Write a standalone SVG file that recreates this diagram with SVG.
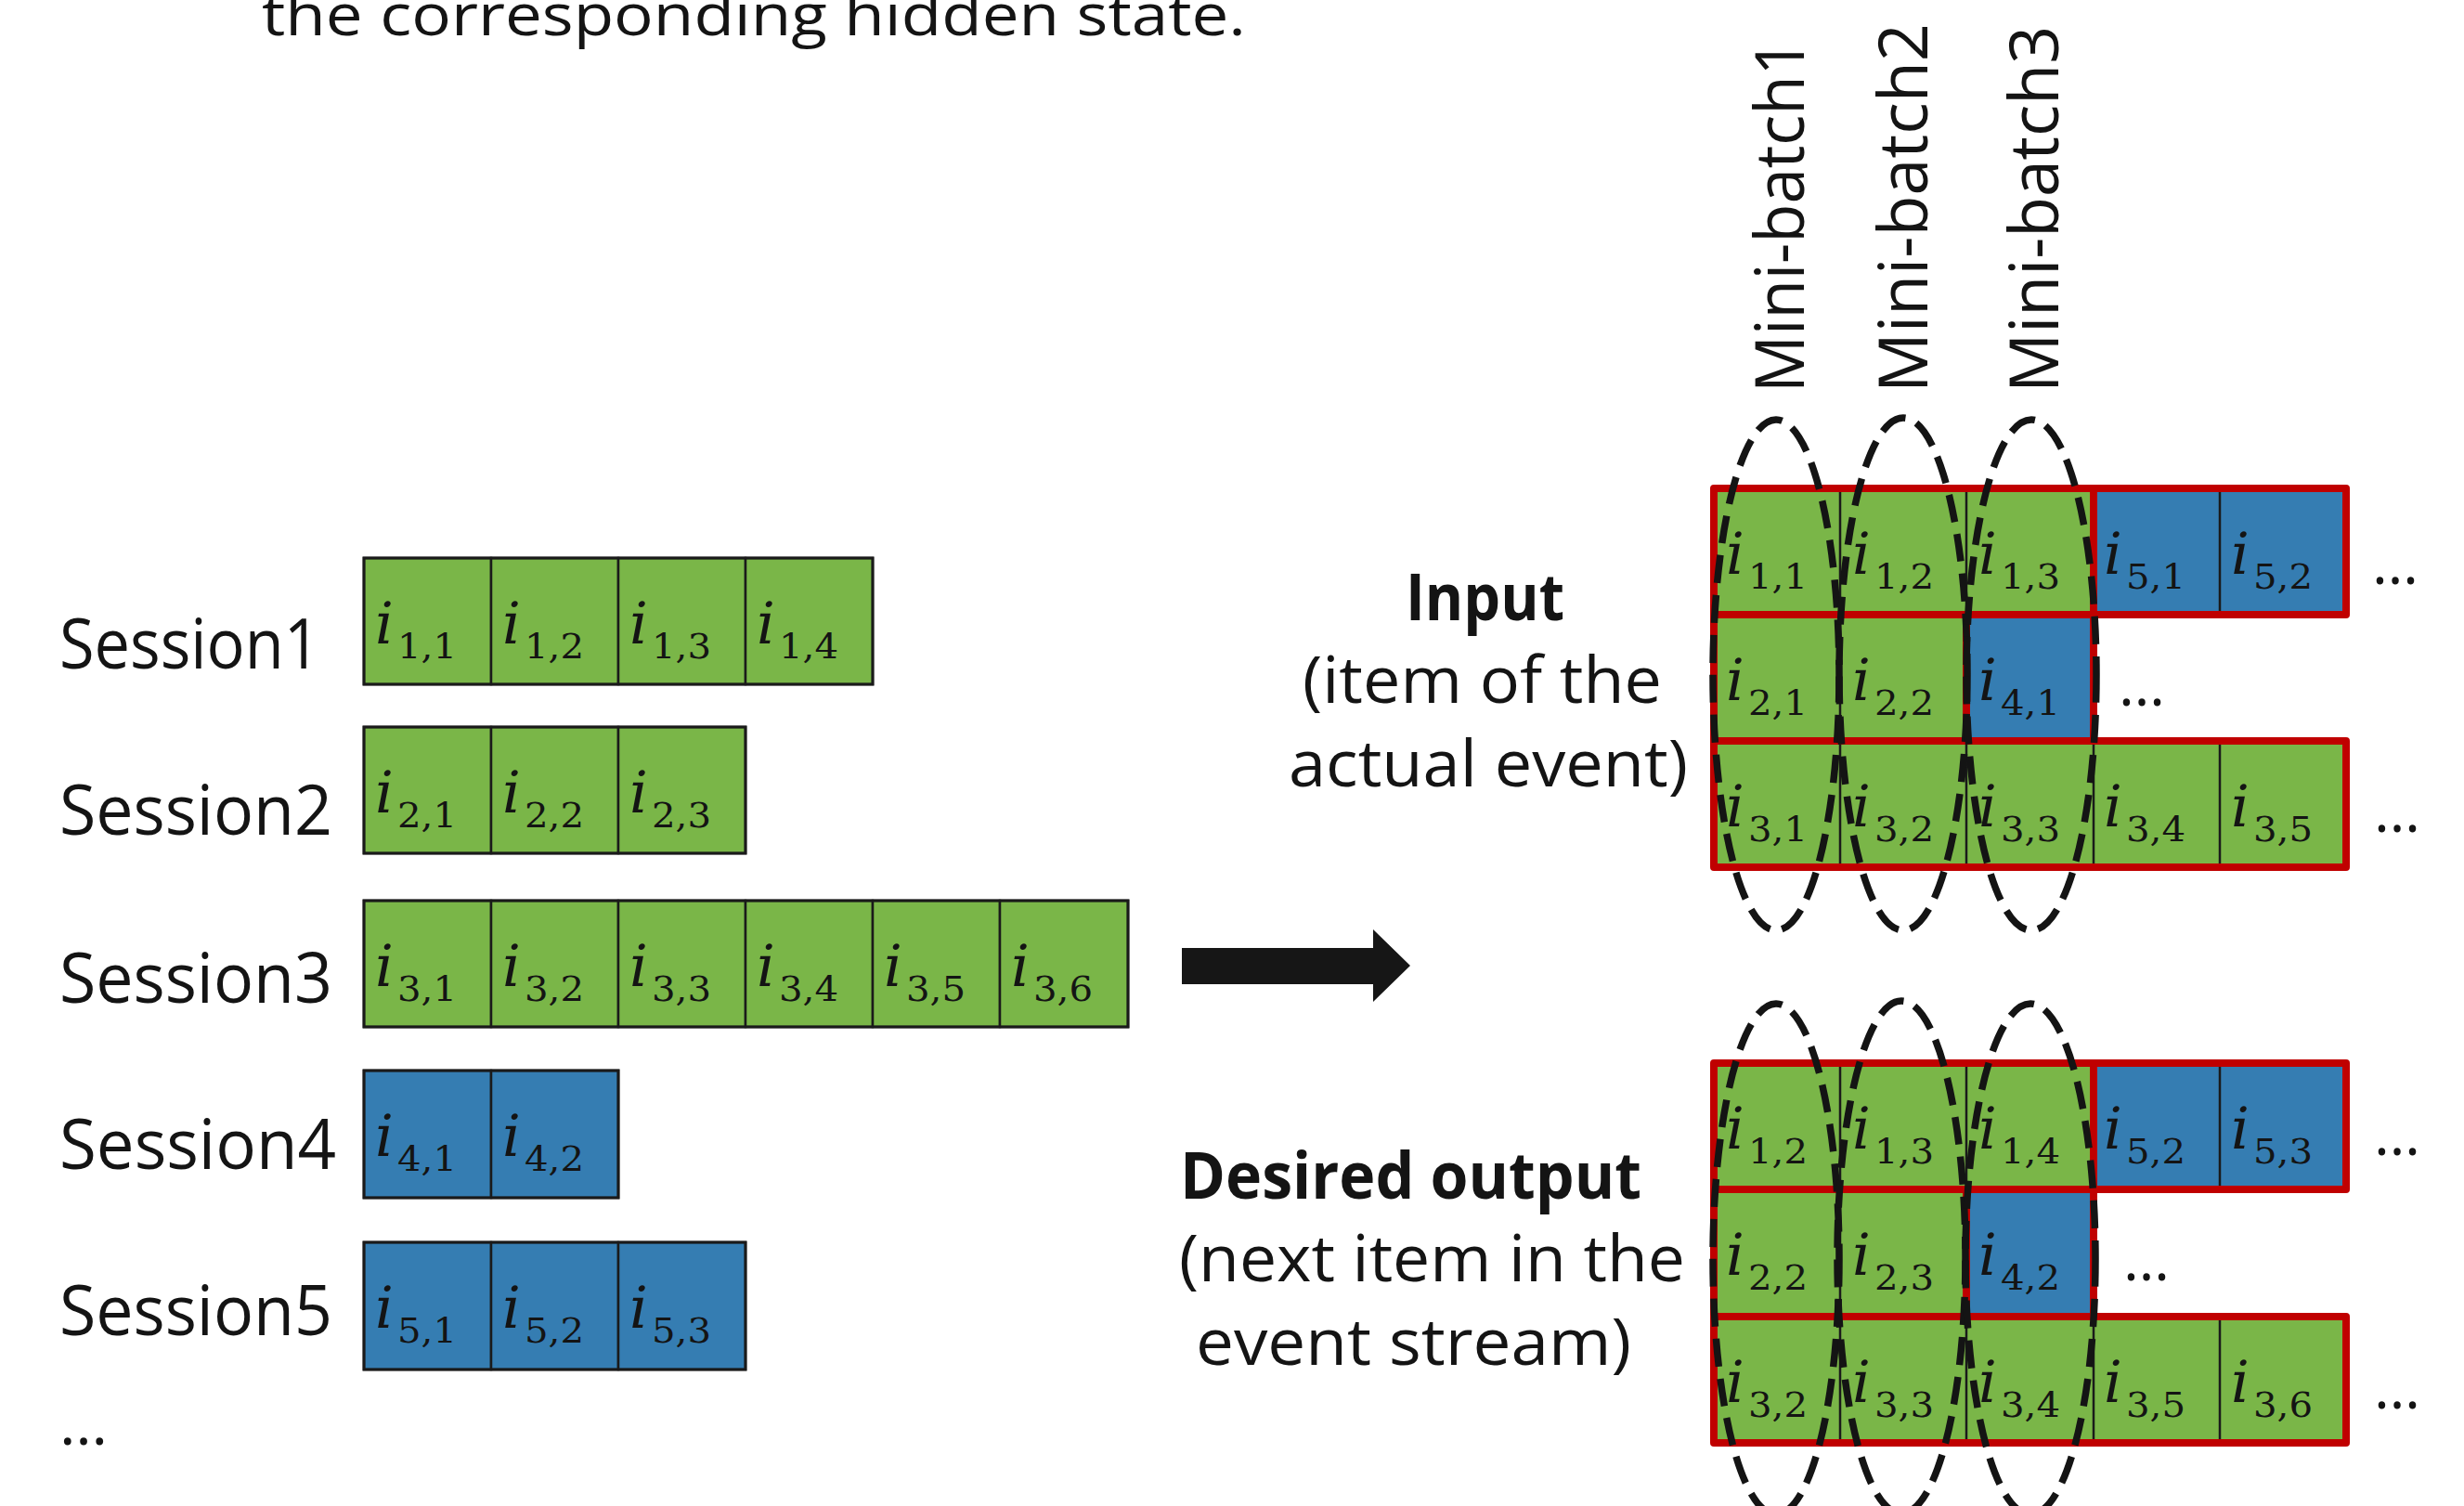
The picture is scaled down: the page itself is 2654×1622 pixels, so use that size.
<svg xmlns="http://www.w3.org/2000/svg" width="2654" height="1622" viewBox="0 0 2654 1622">
<style>
.txt{font-family:"Open Sans","Liberation Sans",sans-serif;fill:#141414}
.lbl{font-family:"Open Sans","Liberation Sans",sans-serif;font-size:75px;fill:#141414}
.bold{font-family:"Open Sans","Liberation Sans",sans-serif;font-size:70px;font-weight:bold;fill:#141414}
.mid{font-family:"Open Sans","Liberation Sans",sans-serif;font-size:70px;fill:#141414}
.mb{font-family:"Open Sans","Liberation Sans",sans-serif;font-size:74px;fill:#141414}
.dots{font-family:"Open Sans","Liberation Sans",sans-serif;font-size:64px;fill:#141414}
.g{fill:#7AB648}
.b{fill:#357DB2}
.lc{stroke:#1a1a1a;stroke-width:2.5}
.lo{fill:none;stroke:#1a1a1a;stroke-width:3}
.thin{stroke:#1a1a1a;stroke-width:2.5}
.red{fill:none;stroke:#C00000;stroke-width:8;stroke-linejoin:round}
.ii{font-family:"DejaVu Serif","Liberation Serif",serif;font-style:italic;font-size:62px;fill:#141414}
.sub{font-family:"DejaVu Serif","Liberation Serif",serif;font-size:37px;fill:#141414}
.ell{fill:none;stroke:#141414;stroke-width:7.5;stroke-dasharray:30 13}
</style>

<text class="txt" x="282" y="38" font-size="62" textLength="1060" lengthAdjust="spacingAndGlyphs">the corresponding hidden state.</text>

<!-- Left sessions -->
<g id="session1">
<text class="lbl" x="64" y="720" textLength="281" lengthAdjust="spacingAndGlyphs">Session1</text>
<rect class="g lc" x="392" y="601" width="137" height="136"/>
<rect class="g lc" x="529" y="601" width="137" height="136"/>
<rect class="g lc" x="666" y="601" width="137" height="136"/>
<rect class="g lc" x="803" y="601" width="137" height="136"/>
<rect class="lo" x="392" y="601" width="548" height="136"/>
<text class="ii" x="404" y="693">i</text><text class="sub" x="428" y="709" textLength="64" lengthAdjust="spacingAndGlyphs">1,1</text>
<text class="ii" x="541" y="693">i</text><text class="sub" x="565" y="709" textLength="64" lengthAdjust="spacingAndGlyphs">1,2</text>
<text class="ii" x="678" y="693">i</text><text class="sub" x="702" y="709" textLength="64" lengthAdjust="spacingAndGlyphs">1,3</text>
<text class="ii" x="815" y="693">i</text><text class="sub" x="839" y="709" textLength="64" lengthAdjust="spacingAndGlyphs">1,4</text>
</g>

<g id="session2">
<text class="lbl" x="64" y="899" textLength="294" lengthAdjust="spacingAndGlyphs">Session2</text>
<rect class="g lc" x="392" y="783" width="137" height="136"/>
<rect class="g lc" x="529" y="783" width="137" height="136"/>
<rect class="g lc" x="666" y="783" width="137" height="136"/>
<rect class="lo" x="392" y="783" width="411" height="136"/>
<text class="ii" x="404" y="875">i</text><text class="sub" x="428" y="891" textLength="64" lengthAdjust="spacingAndGlyphs">2,1</text>
<text class="ii" x="541" y="875">i</text><text class="sub" x="565" y="891" textLength="64" lengthAdjust="spacingAndGlyphs">2,2</text>
<text class="ii" x="678" y="875">i</text><text class="sub" x="702" y="891" textLength="64" lengthAdjust="spacingAndGlyphs">2,3</text>
</g>

<g id="session3">
<text class="lbl" x="64" y="1080" textLength="294" lengthAdjust="spacingAndGlyphs">Session3</text>
<rect class="g lc" x="392" y="970" width="137" height="136"/>
<rect class="g lc" x="529" y="970" width="137" height="136"/>
<rect class="g lc" x="666" y="970" width="137" height="136"/>
<rect class="g lc" x="803" y="970" width="137" height="136"/>
<rect class="g lc" x="940" y="970" width="137" height="136"/>
<rect class="g lc" x="1077" y="970" width="138" height="136"/>
<rect class="lo" x="392" y="970" width="823" height="136"/>
<text class="ii" x="404" y="1062">i</text><text class="sub" x="428" y="1078" textLength="64" lengthAdjust="spacingAndGlyphs">3,1</text>
<text class="ii" x="541" y="1062">i</text><text class="sub" x="565" y="1078" textLength="64" lengthAdjust="spacingAndGlyphs">3,2</text>
<text class="ii" x="678" y="1062">i</text><text class="sub" x="702" y="1078" textLength="64" lengthAdjust="spacingAndGlyphs">3,3</text>
<text class="ii" x="815" y="1062">i</text><text class="sub" x="839" y="1078" textLength="64" lengthAdjust="spacingAndGlyphs">3,4</text>
<text class="ii" x="952" y="1062">i</text><text class="sub" x="976" y="1078" textLength="64" lengthAdjust="spacingAndGlyphs">3,5</text>
<text class="ii" x="1089" y="1062">i</text><text class="sub" x="1113" y="1078" textLength="64" lengthAdjust="spacingAndGlyphs">3,6</text>
</g>

<g id="session4">
<text class="lbl" x="64" y="1259" textLength="298" lengthAdjust="spacingAndGlyphs">Session4</text>
<rect class="b lc" x="392" y="1153" width="137" height="137"/>
<rect class="b lc" x="529" y="1153" width="137" height="137"/>
<rect class="lo" x="392" y="1153" width="274" height="137"/>
<text class="ii" x="404" y="1245">i</text><text class="sub" x="428" y="1261" textLength="64" lengthAdjust="spacingAndGlyphs">4,1</text>
<text class="ii" x="541" y="1245">i</text><text class="sub" x="565" y="1261" textLength="64" lengthAdjust="spacingAndGlyphs">4,2</text>
</g>

<g id="session5">
<text class="lbl" x="64" y="1438" textLength="294" lengthAdjust="spacingAndGlyphs">Session5</text>
<rect class="b lc" x="392" y="1338" width="137" height="137"/>
<rect class="b lc" x="529" y="1338" width="137" height="137"/>
<rect class="b lc" x="666" y="1338" width="137" height="137"/>
<rect class="lo" x="392" y="1338" width="411" height="137"/>
<text class="ii" x="404" y="1430">i</text><text class="sub" x="428" y="1446" textLength="64" lengthAdjust="spacingAndGlyphs">5,1</text>
<text class="ii" x="541" y="1430">i</text><text class="sub" x="565" y="1446" textLength="64" lengthAdjust="spacingAndGlyphs">5,2</text>
<text class="ii" x="678" y="1430">i</text><text class="sub" x="702" y="1446" textLength="64" lengthAdjust="spacingAndGlyphs">5,3</text>
</g>

<text class="dots" x="64" y="1556" textLength="52" lengthAdjust="spacingAndGlyphs">…</text>

<!-- Connectors -->
<g id="connectors">
<polygon points="1273,1021 1479,1021 1479,1001 1519,1040 1479,1079 1479,1060 1273,1060" fill="#161616"/>
</g>

<!-- Input labels -->
<g id="input-label">
<text class="bold" x="1514" y="668" textLength="171" lengthAdjust="spacingAndGlyphs">Input</text>
<text class="mid" x="1403" y="757" textLength="387" lengthAdjust="spacingAndGlyphs">(item of the</text>
<text class="mid" x="1388" y="847" textLength="430" lengthAdjust="spacingAndGlyphs">actual event)</text>
</g>
<g id="output-label">
<text class="bold" x="1271" y="1291" textLength="497" lengthAdjust="spacingAndGlyphs">Desired output</text>
<text class="mid" x="1270" y="1380" textLength="545" lengthAdjust="spacingAndGlyphs">(next item in the</text>
<text class="mid" x="1288" y="1470" textLength="469" lengthAdjust="spacingAndGlyphs">event stream)</text>
</g>

<!-- Mini-batch labels -->
<g id="minibatch-labels">
<text class="mb" transform="translate(1943,423) rotate(-90)" textLength="381" lengthAdjust="spacingAndGlyphs">Mini-batch1</text>
<text class="mb" transform="translate(2076,423) rotate(-90)" textLength="398" lengthAdjust="spacingAndGlyphs">Mini-batch2</text>
<text class="mb" transform="translate(2217,423) rotate(-90)" textLength="395" lengthAdjust="spacingAndGlyphs">Mini-batch3</text>
</g>

<!-- Input grid -->
<g id="input-grid">
<rect class="g" x="1846" y="526" width="409" height="136"/>
<rect class="b" x="2255" y="526" width="272" height="136"/>
<rect class="g" x="1846" y="662" width="272" height="136"/>
<rect class="b" x="2118" y="662" width="137" height="136"/>
<rect class="g" x="1846" y="798" width="681" height="136"/>
<line class="thin" x1="1982" y1="526" x2="1982" y2="934"/>
<line class="thin" x1="2118" y1="526" x2="2118" y2="662"/>
<line class="thin" x1="2391" y1="526" x2="2391" y2="662"/>
<line class="thin" x1="2118" y1="798" x2="2118" y2="934"/>
<line class="thin" x1="2255" y1="798" x2="2255" y2="934"/>
<line class="thin" x1="2391" y1="798" x2="2391" y2="934"/>
<rect class="red" x="1846" y="526" width="409" height="136"/>
<rect class="red" x="2255" y="526" width="272" height="136"/>
<rect class="red" x="1846" y="662" width="272" height="136"/>
<rect class="red" x="2118" y="662" width="137" height="136"/>
<rect class="red" x="1846" y="798" width="681" height="136"/>
<text class="ii" x="1859" y="618">i</text><text class="sub" x="1883" y="634" textLength="64" lengthAdjust="spacingAndGlyphs">1,1</text>
<text class="ii" x="1995" y="618">i</text><text class="sub" x="2019" y="634" textLength="64" lengthAdjust="spacingAndGlyphs">1,2</text>
<text class="ii" x="2131" y="618">i</text><text class="sub" x="2155" y="634" textLength="64" lengthAdjust="spacingAndGlyphs">1,3</text>
<text class="ii" x="2266" y="618">i</text><text class="sub" x="2290" y="634" textLength="64" lengthAdjust="spacingAndGlyphs">5,1</text>
<text class="ii" x="2403" y="618">i</text><text class="sub" x="2427" y="634" textLength="64" lengthAdjust="spacingAndGlyphs">5,2</text>
<text class="ii" x="1859" y="754">i</text><text class="sub" x="1883" y="770" textLength="64" lengthAdjust="spacingAndGlyphs">2,1</text>
<text class="ii" x="1995" y="754">i</text><text class="sub" x="2019" y="770" textLength="64" lengthAdjust="spacingAndGlyphs">2,2</text>
<text class="ii" x="2131" y="754">i</text><text class="sub" x="2155" y="770" textLength="64" lengthAdjust="spacingAndGlyphs">4,1</text>
<text class="ii" x="1859" y="890">i</text><text class="sub" x="1883" y="906" textLength="64" lengthAdjust="spacingAndGlyphs">3,1</text>
<text class="ii" x="1995" y="890">i</text><text class="sub" x="2019" y="906" textLength="64" lengthAdjust="spacingAndGlyphs">3,2</text>
<text class="ii" x="2131" y="890">i</text><text class="sub" x="2155" y="906" textLength="64" lengthAdjust="spacingAndGlyphs">3,3</text>
<text class="ii" x="2266" y="890">i</text><text class="sub" x="2290" y="906" textLength="64" lengthAdjust="spacingAndGlyphs">3,4</text>
<text class="ii" x="2403" y="890">i</text><text class="sub" x="2427" y="906" textLength="64" lengthAdjust="spacingAndGlyphs">3,5</text>
<text class="dots" x="2555" y="629" textLength="50" lengthAdjust="spacingAndGlyphs">…</text>
<text class="dots" x="2282" y="760" textLength="50" lengthAdjust="spacingAndGlyphs">…</text>
<text class="dots" x="2557" y="896" textLength="50" lengthAdjust="spacingAndGlyphs">…</text>
</g>

<!-- Output grid -->
<g id="output-grid">
<rect class="g" x="1846" y="1145" width="409" height="136"/>
<rect class="b" x="2255" y="1145" width="272" height="136"/>
<rect class="g" x="1846" y="1281" width="272" height="137"/>
<rect class="b" x="2118" y="1281" width="137" height="137"/>
<rect class="g" x="1846" y="1418" width="681" height="136"/>
<line class="thin" x1="1982" y1="1145" x2="1982" y2="1554"/>
<line class="thin" x1="2118" y1="1145" x2="2118" y2="1281"/>
<line class="thin" x1="2391" y1="1145" x2="2391" y2="1281"/>
<line class="thin" x1="2118" y1="1418" x2="2118" y2="1554"/>
<line class="thin" x1="2255" y1="1418" x2="2255" y2="1554"/>
<line class="thin" x1="2391" y1="1418" x2="2391" y2="1554"/>
<rect class="red" x="1846" y="1145" width="409" height="136"/>
<rect class="red" x="2255" y="1145" width="272" height="136"/>
<rect class="red" x="1846" y="1281" width="272" height="137"/>
<rect class="red" x="2118" y="1281" width="137" height="137"/>
<rect class="red" x="1846" y="1418" width="681" height="136"/>
<text class="ii" x="1859" y="1237">i</text><text class="sub" x="1883" y="1253" textLength="64" lengthAdjust="spacingAndGlyphs">1,2</text>
<text class="ii" x="1995" y="1237">i</text><text class="sub" x="2019" y="1253" textLength="64" lengthAdjust="spacingAndGlyphs">1,3</text>
<text class="ii" x="2131" y="1237">i</text><text class="sub" x="2155" y="1253" textLength="64" lengthAdjust="spacingAndGlyphs">1,4</text>
<text class="ii" x="2266" y="1237">i</text><text class="sub" x="2290" y="1253" textLength="64" lengthAdjust="spacingAndGlyphs">5,2</text>
<text class="ii" x="2403" y="1237">i</text><text class="sub" x="2427" y="1253" textLength="64" lengthAdjust="spacingAndGlyphs">5,3</text>
<text class="ii" x="1859" y="1373">i</text><text class="sub" x="1883" y="1389" textLength="64" lengthAdjust="spacingAndGlyphs">2,2</text>
<text class="ii" x="1995" y="1373">i</text><text class="sub" x="2019" y="1389" textLength="64" lengthAdjust="spacingAndGlyphs">2,3</text>
<text class="ii" x="2131" y="1373">i</text><text class="sub" x="2155" y="1389" textLength="64" lengthAdjust="spacingAndGlyphs">4,2</text>
<text class="ii" x="1859" y="1510">i</text><text class="sub" x="1883" y="1526" textLength="64" lengthAdjust="spacingAndGlyphs">3,2</text>
<text class="ii" x="1995" y="1510">i</text><text class="sub" x="2019" y="1526" textLength="64" lengthAdjust="spacingAndGlyphs">3,3</text>
<text class="ii" x="2131" y="1510">i</text><text class="sub" x="2155" y="1526" textLength="64" lengthAdjust="spacingAndGlyphs">3,4</text>
<text class="ii" x="2266" y="1510">i</text><text class="sub" x="2290" y="1526" textLength="64" lengthAdjust="spacingAndGlyphs">3,5</text>
<text class="ii" x="2403" y="1510">i</text><text class="sub" x="2427" y="1526" textLength="64" lengthAdjust="spacingAndGlyphs">3,6</text>
<text class="dots" x="2557" y="1244" textLength="50" lengthAdjust="spacingAndGlyphs">…</text>
<text class="dots" x="2287" y="1379" textLength="50" lengthAdjust="spacingAndGlyphs">…</text>
<text class="dots" x="2557" y="1517" textLength="50" lengthAdjust="spacingAndGlyphs">…</text>
</g>

<!-- Mini-batch ellipses -->
<g id="minibatch1">
<ellipse class="ell" cx="1913" cy="727" rx="68" ry="275"/>
<ellipse class="ell" cx="1913" cy="1356" rx="68" ry="275"/>
</g>
<g id="minibatch2">
<ellipse class="ell" cx="2050" cy="726" rx="69" ry="276"/>
<ellipse class="ell" cx="2048" cy="1354" rx="69" ry="276"/>
</g>
<g id="minibatch3">
<ellipse class="ell" cx="2188" cy="727" rx="70" ry="275"/>
<ellipse class="ell" cx="2187" cy="1356" rx="70" ry="275"/>
</g>
</svg>
